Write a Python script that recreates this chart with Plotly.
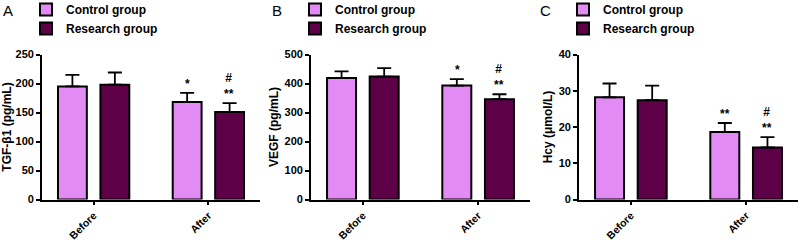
import plotly.graph_objects as go

categories = ["Before", "After"]
series_names = ["Control group", "Research group"]

# Panel A: TGF-β1 (pg/mL)
tgf_control = [195, 168]
tgf_control_sd = [20, 16]
tgf_research = [198, 151]
tgf_research_sd = [21, 15]

# Panel B: VEGF (pg/mL)
vegf_control = [419, 393]
vegf_control_sd = [23, 22]
vegf_research = [424, 346]
vegf_research_sd = [29, 17]

# Panel C: Hcy (µmol/L)
hcy_control = [28.2, 18.6]
hcy_control_sd = [3.8, 2.5]
hcy_research = [27.4, 14.35]
hcy_research_sd = [4.0, 2.85]

panel_letters = ["A", "B", "C"]
y_titles = ["TGF-β1 (pg/mL)", "VEGF (pg/mL)", "Hcy (μmol/L)"]
y_ranges = [[0, 250], [0, 500], [0, 40]]
y_dticks = [50, 100, 10]
# significance marks over the "After" bars: (control, research)
sig_marks = [("*", "#<br>**"), ("*", "#<br>**"), ("**", "#<br>**")]

panels = [
    (tgf_control, tgf_control_sd, tgf_research, tgf_research_sd),
    (vegf_control, vegf_control_sd, vegf_research, vegf_research_sd),
    (hcy_control, hcy_control_sd, hcy_research, hcy_research_sd),
]

colors = ["#E28BF5", "#5E0048"]
W, H = 800, 240
x_px = [(42, 260), (311, 530), (579, 798)]
y_dom = [40.5 / H, 185.5 / H]
FONT = "Liberation Sans, Arial, sans-serif"

fig = go.Figure()
layout = dict(
    width=W, height=H, margin=dict(l=0, r=0, t=0, b=0, autoexpand=False),
    plot_bgcolor="white", paper_bgcolor="white",
    barmode="group", bargap=0.26, bargroupgap=0.32,
    font=dict(family=FONT, color="black"),
    showlegend=True,
)
annotations = []
for i, (c, csd, r, rsd) in enumerate(panels):
    sfx = "" if i == 0 else str(i + 1)
    leg = "legend" if i == 0 else f"legend{i + 1}"
    for j, (vals, sd) in enumerate([(c, csd), (r, rsd)]):
        fig.add_trace(go.Bar(
            x=categories, y=vals, name=series_names[j],
            xaxis="x" + sfx, yaxis="y" + sfx, legend=leg,
            offsetgroup=str(j),
            marker=dict(color=colors[j], line=dict(color="black", width=2)),
            error_y=dict(type="data", symmetric=False, array=sd,
                         arrayminus=[0] * len(sd), color="black",
                         thickness=1.8, width=7),
        ))
    x0, x1 = x_px[i]
    layout["xaxis" + sfx] = dict(
        domain=[x0 / W, x1 / W], anchor="y" + sfx, range=[-0.45, 1.45],
        showline=True, linecolor="black", linewidth=1.8,
        ticks="outside", ticklen=4, tickwidth=1.5, tickcolor="black",
        tickangle=-45, tickfont=dict(size=10.5, family=FONT, weight="bold"),
        showgrid=False, zeroline=False, automargin=False,
    )
    layout["yaxis" + sfx] = dict(
        domain=y_dom, anchor="x" + sfx, range=y_ranges[i], dtick=y_dticks[i],
        showline=True, linecolor="black", linewidth=1.8,
        ticks="outside", ticklen=4, tickwidth=1.5, tickcolor="black",
        tickfont=dict(size=11, family=FONT, weight="bold"),
        title=dict(text=y_titles[i], font=dict(size=12, family=FONT, weight="bold"), standoff=3),
        showgrid=False, zeroline=False, automargin=False,
    )
    layout[leg] = dict(
        x=(x0 - 16) / W, xanchor="left", y=1.0 + 5 / H, yanchor="top",
        font=dict(size=12, family=FONT, weight="bold"),
        bgcolor="rgba(0,0,0,0)", tracegroupgap=0, itemwidth=30,
    )
    annotations.append(dict(
        xref="paper", yref="paper", x=(x0 - 41) / W, y=1.0,
        xanchor="left", yanchor="top", text=panel_letters[i], showarrow=False,
        font=dict(size=15, family=FONT),
    ))
    tops = [c[1] + csd[1], r[1] + rsd[1]]
    for j in range(2):
        annotations.append(dict(
            xref="x" + sfx, yref="y" + sfx, x=categories[1], y=tops[j],
            xshift=(-21 if j == 0 else 21), yshift=0,
            xanchor="center", yanchor="bottom", text=sig_marks[i][j],
            showarrow=False, font=dict(size=12, family=FONT, weight="bold"),
        ))
layout["annotations"] = annotations
fig.update_layout(**layout)
# remove the browser's default 8px body margin so the 800x240 figure fills the window
fig.write_html("out.html", config={"displayModeBar": False},
               post_script="document.body.style.margin='0px';")
